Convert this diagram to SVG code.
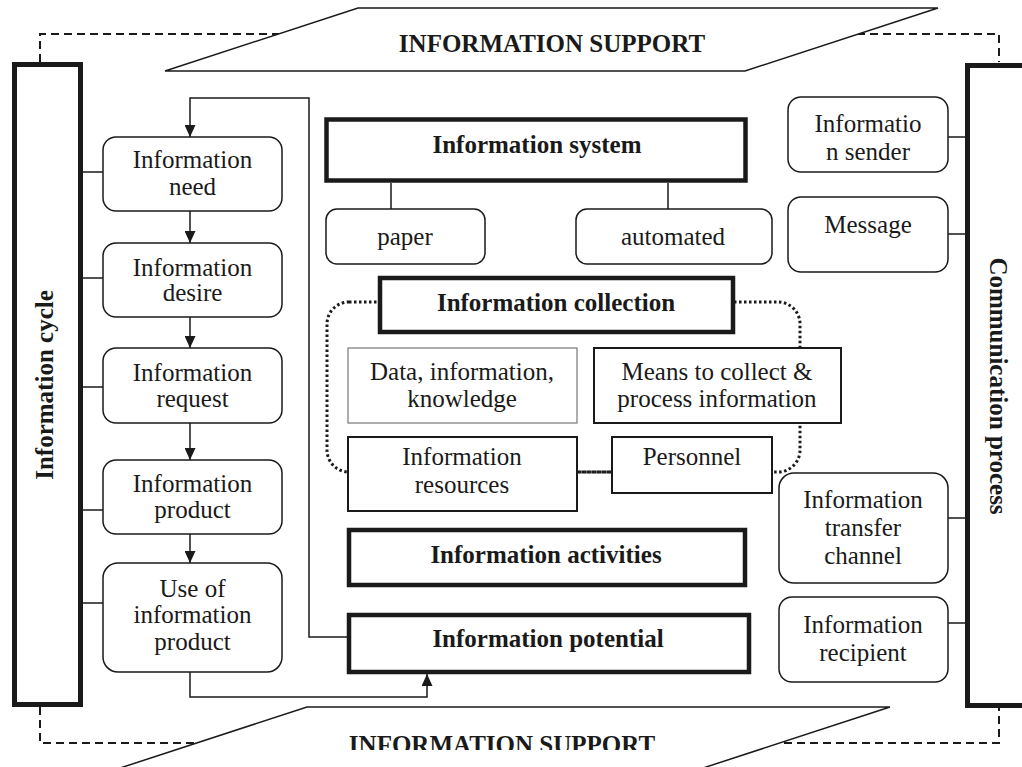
<svg xmlns="http://www.w3.org/2000/svg" width="1022" height="767" viewBox="0 0 1022 767">
<style>
text{font-family:"Liberation Serif","Times New Roman",serif;fill:#1a1a1a;font-size:25px}
.b{font-weight:bold}
.m{text-anchor:middle}
.rb{fill:#fff;stroke:#1a1a1a;stroke-width:1.5}
.tk{fill:#fff;stroke:#1a1a1a;stroke-width:4.5}
.bar{fill:#fff;stroke:#1a1a1a;stroke-width:5}
.ln{fill:none;stroke:#1a1a1a;stroke-width:1.5}
.dash{fill:none;stroke:#1a1a1a;stroke-width:2;stroke-dasharray:8 5}
.dot{fill:none;stroke:#1a1a1a;stroke-width:3;stroke-dasharray:2.5 2.5}
.par{fill:#fff;stroke:#1a1a1a;stroke-width:1.5}
</style>
<defs>
<marker id="ah" markerUnits="userSpaceOnUse" markerWidth="12" markerHeight="11" refX="12" refY="5.5" orient="auto">
<path d="M0,0 L12,5.5 L0,11 Z" fill="#1a1a1a"/>
</marker>
<clipPath id="cut"><rect x="0" y="0" width="1022" height="750"/></clipPath>
</defs>

<!-- dashed frame -->
<path class="dash" d="M40,62 V34 H999 V62 M40,707 V743 H999 V707"/>

<!-- support parallelograms -->
<g id="support-top">
<polygon class="par" points="358,8 938,8 745,71 165,71"/>
<text class="b m" x="552" y="52">INFORMATION SUPPORT</text>
</g>
<g id="support-bottom">
<polygon class="par" points="307,707 890,707 697,770 114,770"/>
<text class="b m" x="502" y="753" clip-path="url(#cut)">INFORMATION SUPPORT</text>
</g>

<!-- dotted collection group -->
<rect class="dot" x="327" y="302" width="473" height="170" rx="22"/>

<!-- connectors -->
<g id="connectors">
<path class="ln" d="M83,172 H103 M83,278 H103 M83,387 H103 M83,510 H103 M83,603 H103"/>
<path class="ln" d="M948,137 H965 M948,234 H965 M948,518 H965 M948,623 H965"/>
<path class="ln" d="M391,183 V209 M668,183 V209"/>
<path class="dot" d="M577,472 H612"/>
<path class="ln" marker-end="url(#ah)" d="M347,637 H309 V98 H190 V137"/>
<path class="ln" marker-end="url(#ah)" d="M190,211 V243"/>
<path class="ln" marker-end="url(#ah)" d="M190,317 V348"/>
<path class="ln" marker-end="url(#ah)" d="M190,423 V460"/>
<path class="ln" marker-end="url(#ah)" d="M190,534 V563"/>
<path class="ln" marker-end="url(#ah)" d="M190,672 V697 H427 V674"/>
</g>

<!-- side bars -->
<g id="information-cycle">
<rect class="bar" x="14.5" y="64.5" width="66" height="640"/>
<text class="b m" transform="translate(53,385) rotate(-90)">Information cycle</text>
</g>
<g id="communication-process">
<rect class="bar" x="967.5" y="65.5" width="70" height="640"/>
<text class="b m" transform="translate(990,386) rotate(90)">Communication process</text>
</g>

<!-- left column -->
<g id="need"><rect class="rb" x="103" y="137" width="179" height="74" rx="13"/>
<text class="m" x="192.5" y="168">Information</text><text class="m" x="192.5" y="195">need</text></g>
<g id="desire"><rect class="rb" x="103" y="243" width="179" height="74" rx="13"/>
<text class="m" x="192.5" y="276">Information</text><text class="m" x="192.5" y="301">desire</text></g>
<g id="request"><rect class="rb" x="103" y="348" width="179" height="75" rx="13"/>
<text class="m" x="192.5" y="381">Information</text><text class="m" x="192.5" y="407">request</text></g>
<g id="product"><rect class="rb" x="103" y="460" width="179" height="74" rx="13"/>
<text class="m" x="192.5" y="492">Information</text><text class="m" x="192.5" y="518">product</text></g>
<g id="use"><rect class="rb" x="103" y="563" width="179" height="109" rx="15"/>
<text class="m" x="192.5" y="597">Use of</text><text class="m" x="192.5" y="623">information</text><text class="m" x="192.5" y="650">product</text></g>

<!-- center -->
<g id="system"><rect class="tk" x="326.5" y="119.5" width="419" height="61"/>
<text class="b m" x="537" y="153">Information system</text></g>
<g id="paper"><rect class="rb" x="326" y="209" width="159" height="55" rx="11"/>
<text class="m" x="405" y="245">paper</text></g>
<g id="automated"><rect class="rb" x="576" y="209" width="196" height="55" rx="11"/>
<text class="m" x="673" y="245">automated</text></g>

<g id="collection"><rect class="tk" x="380" y="278" width="353" height="54"/>
<text class="b m" x="556" y="311">Information collection</text></g>
<g id="data"><rect fill="#fff" stroke="#777" stroke-width="1.2" x="348" y="348" width="229" height="75"/>
<text class="m" x="462" y="380">Data, information,</text><text class="m" x="462" y="407">knowledge</text></g>
<g id="means"><rect fill="#fff" stroke="#1a1a1a" stroke-width="2" x="594" y="348" width="247" height="75"/>
<text class="m" x="717" y="380">Means to collect &amp;</text><text class="m" x="717" y="407">process information</text></g>
<g id="resources"><rect fill="#fff" stroke="#1a1a1a" stroke-width="2" x="348" y="437" width="229" height="74"/>
<text class="m" x="462" y="465">Information</text><text class="m" x="462" y="493">resources</text></g>
<g id="personnel"><rect fill="#fff" stroke="#1a1a1a" stroke-width="2" x="612" y="437" width="160" height="56"/>
<text class="m" x="692" y="465">Personnel</text></g>

<g id="activities"><rect class="tk" x="349" y="530" width="396" height="55"/>
<text class="b m" x="546" y="563">Information activities</text></g>
<g id="potential"><rect class="tk" x="349" y="615" width="400" height="57"/>
<text class="b m" x="548" y="647">Information potential</text></g>

<!-- right column -->
<g id="sender"><rect class="rb" x="788" y="97" width="160" height="75" rx="13"/>
<text class="m" x="868" y="132">Informatio</text><text class="m" x="868" y="160">n sender</text></g>
<g id="message"><rect class="rb" x="788" y="197" width="160" height="75" rx="13"/>
<text class="m" x="868" y="233">Message</text></g>
<g id="channel"><rect class="rb" x="779" y="473" width="169" height="110" rx="15"/>
<text class="m" x="863" y="508">Information</text><text class="m" x="863" y="536">transfer</text><text class="m" x="863" y="564">channel</text></g>
<g id="recipient"><rect class="rb" x="779" y="597" width="169" height="85" rx="13"/>
<text class="m" x="863" y="633">Information</text><text class="m" x="863" y="661">recipient</text></g>
</svg>
